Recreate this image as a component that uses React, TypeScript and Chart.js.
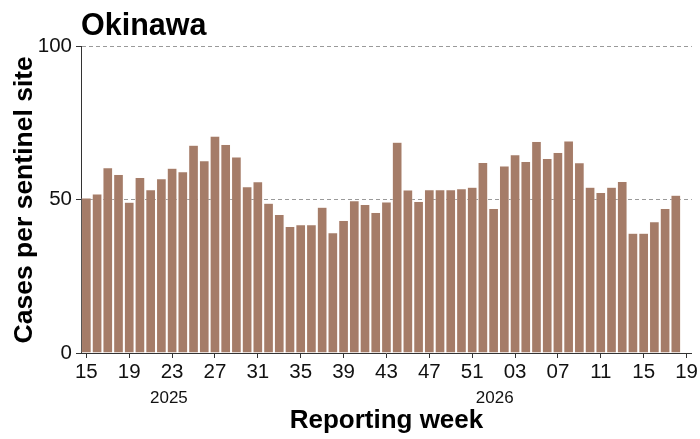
import React, { useEffect, useRef } from 'react';
import { Chart, registerables } from 'chart.js';

Chart.register(...registerables);

const weeks2025 = ['15','16','17','18','19','20','21','22','23','24','25','26','27','28','29','30','31','32','33','34','35','36','37','38','39','40','41','42','43','44','45','46','47','48','49','50','51','52'];
const weeks2026 = ['01','02','03','04','05','06','07','08','09','10','11','12','13','14','15','16','17','18','19'];

const values2025 = [50.6, 51.9, 60.5, 58.3, 49.2, 57.3, 53.3, 56.9, 60.3, 59.2, 67.8, 62.8, 70.8, 68.1, 64.0, 54.3, 55.9, 48.9, 45.2, 41.3, 41.9, 41.9, 47.6, 39.3, 43.3, 49.7, 48.5, 45.9, 49.3, 68.8, 53.2, 49.5, 53.3, 53.3, 53.3, 53.6, 54.1, 62.2];
const values2026 = [47.2, 61.1, 64.7, 62.5, 69.1, 63.5, 65.5, 69.2, 62.1, 54.1, 52.4, 54.1, 56.0, 39.1, 39.1, 42.9, 47.2, 51.5];

const yearLabels = ['2025', '2026'];
const yearAnchorIndex = [7.7, 38.1];
const yTicks = [0, 50, 100];

const FONT = '"Liberation Sans", Arial, Helvetica, sans-serif';
const BAR_COLOR = '#a57c68';

const labels = [...weeks2025, ...weeks2026];
const data: (number | null)[] = [...values2025, ...values2026];
while (data.length < labels.length) data.push(null);

const yearPlugin = {
  id: 'yearLabels',
  afterDraw(chart: any) {
    const xs = chart.scales.x;
    const ctx = chart.ctx;
    ctx.save();
    ctx.font = `17px ${FONT}`;
    ctx.fillStyle = '#111';
    ctx.textAlign = 'center';
    ctx.textBaseline = 'middle';
    yearLabels.forEach((t, i) => {
      const px = xs.getPixelForValue(yearAnchorIndex[i]);
      ctx.fillText(t, px, chart.chartArea.bottom + 45);
    });
    ctx.restore();
  },
};

export default function App() {
  const ref = useRef<HTMLCanvasElement>(null);
  useEffect(() => {
    document.body.style.margin = '0';
    const canvas = ref.current;
    if (!canvas) return;
    const chart = new Chart(canvas, {
      type: 'bar',
      data: {
        labels,
        datasets: [
          {
            data,
            backgroundColor: BAR_COLOR,
            borderColor: 'rgba(255,245,240,0.55)',
            borderWidth: 0.6,
            borderSkipped: 'bottom',
            barPercentage: 0.92,
            categoryPercentage: 1,
          },
        ],
      },
      options: {
        responsive: false,
        animation: false,
        layout: { padding: { left: 0, right: 5, top: 0, bottom: 0 } },
        plugins: {
          legend: { display: false },
          tooltip: { enabled: false },
          title: {
            display: true,
            text: 'Okinawa',
            align: 'start',
            fullSize: false,
            color: '#000',
            font: { family: FONT, size: 30.5, weight: 'bold' },
            padding: { top: 8.5, bottom: 1.5 },
          },
        },
        scales: {
          x: {
            type: 'category',
            offset: true,
            afterFit: (s: any) => { s.height = 86; },
            grid: {
              offset: false,
              drawOnChartArea: false,
              drawTicks: true,
              tickLength: 5,
              tickColor: (c: any) => (c.index % 4 === 0 ? '#333' : 'rgba(0,0,0,0)'),
            },
            border: { display: true, color: '#333', width: 1 },
            ticks: {
              autoSkip: false,
              maxRotation: 0,
              minRotation: 0,
              padding: 2,
              color: '#111',
              font: { family: FONT, size: 20.5 },
              callback: (_v: any, i: number) => (i % 4 === 0 ? labels[i] : ''),
            },
            title: {
              display: true,
              text: 'Reporting week',
              color: '#000',
              font: { family: FONT, size: 26, weight: 'bold' },
              padding: { top: 0, bottom: 3 },
            },
          },
          y: {
            min: 0,
            max: 100,
            afterFit: (s: any) => { s.width = 81; },
            afterBuildTicks: (s: any) => { s.ticks = yTicks.map((v) => ({ value: v })); },
            grid: {
              color: (c: any) => (c.tick && c.tick.value === 0 ? 'rgba(0,0,0,0)' : '#9a9a9a'),
              lineWidth: 1,
              tickBorderDash: [],
              tickColor: '#333',
              tickLength: 5,
              drawTicks: true,
            } as any,
            border: { display: true, color: '#333', width: 1, dash: [4, 3] },
            ticks: {
              padding: 4,
              color: '#111',
              font: { family: FONT, size: 20.5 },
            },
            title: {
              display: true,
              text: 'Cases per sentinel site',
              color: '#000',
              font: { family: FONT, size: 26.5, weight: 'bold' },
              padding: { top: 8.5, bottom: 0 },
            },
          },
        },
      } as any,
      plugins: [yearPlugin],
    });
    return () => chart.destroy();
  }, []);
  return <canvas ref={ref} width={700} height={439} style={{ display: 'block' }} />;
}
